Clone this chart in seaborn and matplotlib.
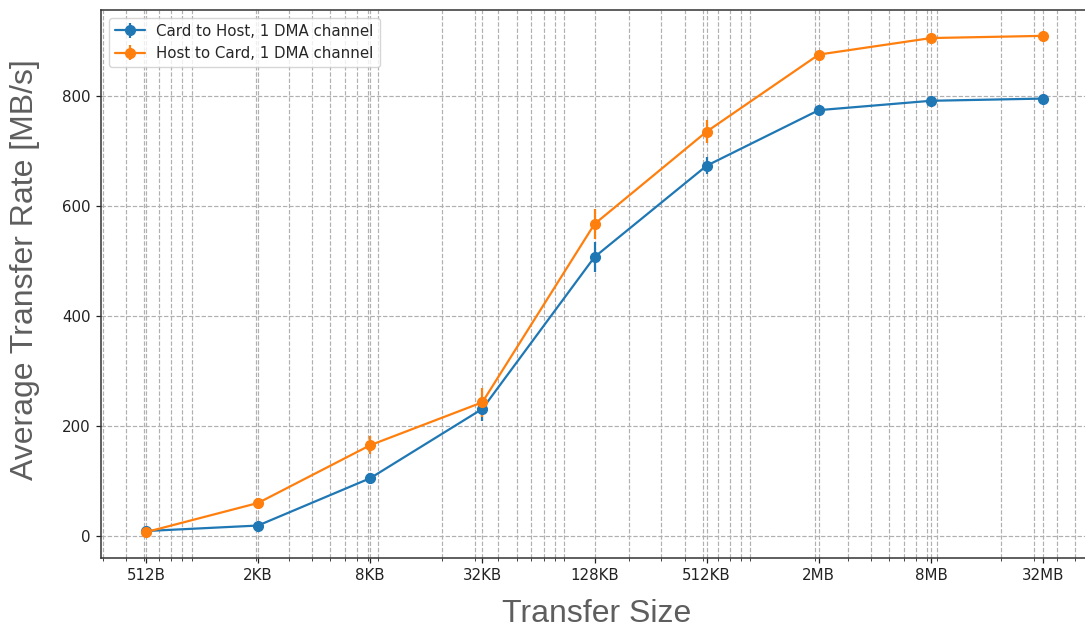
import numpy as np
import pandas as pd
import matplotlib
matplotlib.use("Agg")
import matplotlib.pyplot as plt
import seaborn as sns

# Transfer sizes in bytes and their axis labels
sizes = [512, 2048, 8192, 32768, 131072, 524288, 2097152, 8388608, 33554432]
size_labels = ["512B", "2KB", "8KB", "32KB", "128KB", "512KB", "2MB", "8MB", "32MB"]

# Average transfer rate [MB/s] and spread per direction
card_to_host = [9, 19, 105, 231, 507, 673, 774, 791, 795]
card_to_host_err = [2, 3, 10, 22, 28, 15, 4, 3, 3]
host_to_card = [7, 60, 165, 243, 567, 735, 875, 905, 909]
host_to_card_err = [2, 4, 16, 26, 27, 21, 4, 3, 3]

series_names = ["Card to Host, 1 DMA channel", "Host to Card, 1 DMA channel"]

df = pd.DataFrame({
    "size": sizes * 2,
    "rate": card_to_host + host_to_card,
    "err": card_to_host_err + host_to_card_err,
    "series": [series_names[0]] * len(sizes) + [series_names[1]] * len(sizes),
})

sns.set_theme(style="ticks")
plt.rcParams["font.family"] = ["DejaVu Sans"]
palette = sns.color_palette("tab10", 2)

W, H = 1085, 629
fig = plt.figure(figsize=(W / 100, H / 100), dpi=100)
left, right, top, bottom = 101, 1088, 10, 558
ax = fig.add_axes([left / W, 1 - bottom / H, (right - left) / W, (bottom - top) / H])

for name, color in zip(series_names, palette):
    sub = df[df["series"] == name]
    ax.errorbar(sub["size"], sub["rate"], yerr=sub["err"], fmt="-o", color=color,
                markersize=7, linewidth=1.6, elinewidth=1.6, label=name)

ax.set_xscale("log")
ax.set_xticks(sizes)
ax.set_xticklabels(size_labels)
ax.set_xlim(512 / 2 ** 0.8, 33554432 * 2 ** 0.8)
ax.set_ylim(-40, 956)
ax.set_yticks([0, 200, 400, 600, 800])
ax.grid(True, which="both", linestyle="--", color="#b0b0b0", linewidth=0.85)
ax.tick_params(axis="both", which="major", labelsize=10.8, length=3.8, width=0.9,
               colors="#222222", direction="out")
ax.tick_params(axis="x", which="minor", length=2.2, width=0.6, colors="#222222")
for sp in ax.spines.values():
    sp.set_color("#333333")
    sp.set_linewidth(1.1)

ax.legend(loc="upper left", fontsize=10.8, frameon=True, framealpha=0.8,
          edgecolor="#cccccc", fancybox=True)

label_color = "#5e5e5e"
fig.text(25 / W, 1 - 270 / H, "Average Transfer Rate [MB/s]", rotation=90,
         ha="center", va="center", fontsize=23, color=label_color,
         family="Liberation Sans")
fig.text(597 / W, 0.5 / H, "Transfer Size", ha="center", va="bottom",
         fontsize=23, color=label_color, family="Liberation Sans")

fig.savefig("out.png", dpi=100)
